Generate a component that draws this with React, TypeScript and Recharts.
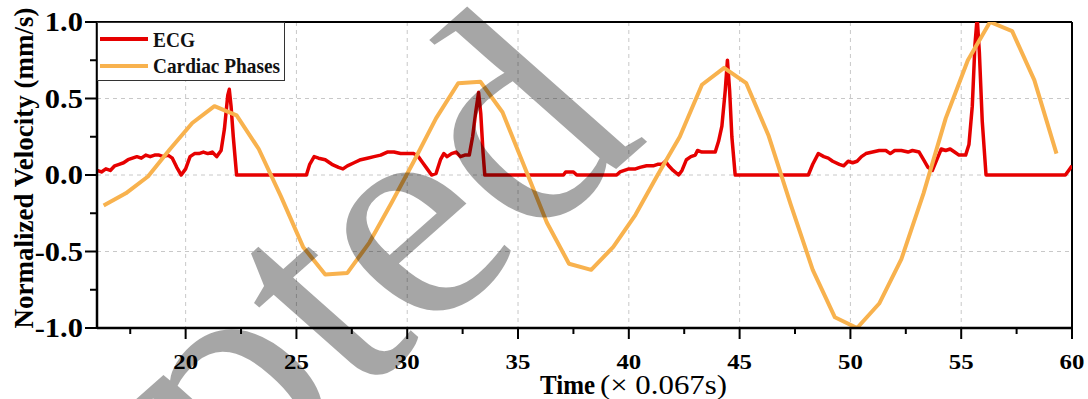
import React from 'react';
import { LineChart, Line, XAxis, YAxis, CartesianGrid, ReferenceLine, Legend, Label } from 'recharts';

// cardiac phase curve (one sample per frame)
const PHASE_TIME = [
  16.3, 17.3, 18.3, 19.3, 20.3, 21.3, 22.3, 23.3, 24.3, 25.3, 26.3, 27.3, 28.3, 29.3, 30.3,
  31.3, 32.3, 33.3, 34.3, 35.3, 36.3, 37.3, 38.3, 39.3, 40.3, 41.3, 42.3, 43.3, 44.3, 45.3,
  46.3, 47.3, 48.3, 49.3, 50.3, 51.3, 52.3, 53.3, 54.3, 55.3, 56.3, 57.3, 58.3, 59.3,
];
const PHASE_VALUE = [
  -0.2, -0.12, -0.01, 0.17, 0.34, 0.45, 0.39, 0.17, -0.14, -0.47, -0.65, -0.64, -0.44, -0.18, 0.09,
  0.37, 0.6, 0.61, 0.41, 0.05, -0.31, -0.58, -0.62, -0.47, -0.26, 0.0, 0.25, 0.59, 0.7, 0.6,
  0.26, -0.19, -0.62, -0.93, -1.0, -0.84, -0.55, -0.12, 0.37, 0.75, 1.0, 0.94, 0.62, 0.14,
];

// ECG trace
const ECG_TIME = [
  16.0, 16.2, 16.4, 16.6, 16.8, 17.0, 17.2, 17.4, 17.6, 17.8, 18.0, 18.2, 18.4, 18.6, 18.8, 19.0, 19.2, 19.4, 19.6, 19.8,
  20.0, 20.2, 20.4, 20.6, 20.8, 21.0, 21.2, 21.4, 21.6, 21.75, 21.9, 21.97, 22.05, 22.15, 22.3,
  25.45, 25.6, 25.8, 26.0, 26.3, 26.6, 26.9, 27.1, 27.3, 27.6, 27.9, 28.2, 28.5, 28.8, 29.1, 29.4, 29.7,
  30.0, 30.3, 30.5, 30.7, 30.9, 31.1, 31.3, 31.5, 31.65, 31.8, 32.0, 32.2, 32.4, 32.6, 32.8, 32.95, 33.1, 33.22, 33.32, 33.42, 33.5,
  37.05, 37.15, 37.5, 37.65, 39.45, 39.6, 39.8, 40.0, 40.3, 40.5, 40.8, 41.1, 41.3, 41.5, 41.65, 41.8, 42.0, 42.25,
  42.4, 42.6, 42.8, 43.0, 43.1, 43.3, 43.5, 43.9, 44.05, 44.2, 44.35, 44.45, 44.55, 44.65, 44.8,
  48.1, 48.3, 48.55, 48.8, 49.0, 49.2, 49.5, 49.7, 49.9, 50.1, 50.3, 50.5, 50.7, 51.0, 51.3, 51.6, 51.8, 52.0, 52.3, 52.6, 52.8,
  53.1, 53.3, 53.5, 53.7, 53.9, 54.1, 54.3, 54.5, 54.7, 54.9, 55.2, 55.35, 55.5, 55.62, 55.72, 55.82, 55.95, 56.12,
  59.7, 59.85, 60.0,
];
const ECG_VALUE = [
  0.03, 0.02, 0.04, 0.03, 0.06, 0.07, 0.08, 0.1, 0.11, 0.12, 0.11, 0.13, 0.12, 0.13, 0.13, 0.12, 0.13, 0.11, 0.05, 0.0,
  0.04, 0.12, 0.14, 0.14, 0.15, 0.14, 0.15, 0.12, 0.16, 0.3, 0.52, 0.56, 0.45, 0.25, 0.0,
  0.0, 0.07, 0.12, 0.11, 0.1, 0.07, 0.05, 0.04, 0.06, 0.08, 0.1, 0.11, 0.12, 0.13, 0.15, 0.15, 0.14,
  0.14, 0.14, 0.12, 0.08, 0.04, 0.0, 0.01, 0.1, 0.14, 0.12, 0.14, 0.15, 0.12, 0.13, 0.13, 0.25, 0.42, 0.54, 0.4, 0.15, 0.0,
  0.0, 0.02, 0.02, 0.0, 0.0, 0.02, 0.03, 0.04, 0.04, 0.05, 0.06, 0.06, 0.07, 0.07, 0.09, 0.06, 0.03, 0.0,
  0.03, 0.1, 0.12, 0.13, 0.16, 0.15, 0.15, 0.15, 0.22, 0.32, 0.55, 0.75, 0.55, 0.25, 0.0,
  0.0, 0.07, 0.14, 0.12, 0.11, 0.09, 0.07, 0.06, 0.09, 0.08, 0.09, 0.12, 0.14, 0.15, 0.16, 0.16, 0.14, 0.16, 0.16, 0.15, 0.16,
  0.15, 0.1, 0.05, 0.03, 0.1, 0.17, 0.16, 0.17, 0.15, 0.13, 0.13, 0.2, 0.45, 0.85, 1.03, 0.8, 0.35, 0.0,
  0.0, 0.03, 0.06,
];

const X_TICKS = [17.5, 20, 22.5, 25, 27.5, 30, 32.5, 35, 37.5, 40, 42.5, 45, 47.5, 50, 52.5, 55, 57.5, 60];
const X_GRID = [20, 25, 30, 35, 40, 45, 50, 55];
const Y_TICKS = [-1, -0.75, -0.5, -0.25, 0, 0.25, 0.5, 0.75, 1];
const Y_GRID = [-0.5, 0, 0.5];
const SERIES_NAMES = ['ECG', 'Cardiac Phases'];

const ECG_COLOR = '#e60000';
const PHASE_COLOR = '#f8b24e';
const SERIF = '"Liberation Serif", "Times New Roman", serif';

const phaseData = PHASE_TIME.map((t, i) => ({ time: t, value: PHASE_VALUE[i] }));
const ecgData = ECG_TIME.map((t, i) => ({ time: t, value: ECG_VALUE[i] }));

const isMajor = (v: number, step: number) => Math.abs(v / step - Math.round(v / step)) < 1e-6;

const XTick = ({ x, y, payload }: any) => {
  const major = isMajor(payload.value, 5);
  return (
    <g>
      <line x1={x} x2={x} y1={y} y2={y + (major ? 11 : 6)} stroke="#000" strokeWidth={2} />
      {major && (
        <text transform={`translate(${x},${y + 41}) scale(1.13,1)`} textAnchor="middle"
          fontFamily={SERIF} fontWeight="bold" fontSize={22} fill="#000">
          {payload.value}
        </text>
      )}
    </g>
  );
};

const YTick = ({ x, y, payload }: any) => {
  const major = isMajor(payload.value, 0.5);
  return (
    <g>
      <line x1={x - (major ? 12 : 7)} x2={x} y1={y} y2={y} stroke="#000" strokeWidth={2} />
      {major && (
        <text transform={`translate(${x - 14},${y + 9}) scale(1.13,1)`} textAnchor="end"
          fontFamily={SERIF} fontWeight="bold" fontSize={27} fill="#000">
          {payload.value.toFixed(1)}
        </text>
      )}
    </g>
  );
};

const LegendBox = () => (
  <div style={{ width: 188, height: 59, boxSizing: 'border-box', border: '1.5px solid #333', background: '#fff' }}>
    <svg width={186} height={57} style={{ display: 'block' }}>
      <line x1={2} x2={50} y1={16} y2={16} stroke={ECG_COLOR} strokeWidth={4} />
      <text x={55} y={24} fontFamily={SERIF} fontWeight="bold" fontSize={21} fill="#111"
        textLength={42} lengthAdjust="spacingAndGlyphs">{SERIES_NAMES[0]}</text>
      <line x1={2} x2={50} y1={43} y2={43} stroke={PHASE_COLOR} strokeWidth={4} />
      <text x={55} y={50} fontFamily={SERIF} fontWeight="bold" fontSize={20} fill="#111"
        textLength={127} lengthAdjust="spacingAndGlyphs">{SERIES_NAMES[1]}</text>
    </svg>
  </div>
);

export default function App() {
  return (
    <div style={{ position: 'absolute', left: 0, top: 0, width: 1088, height: 399, background: '#fff' }}>
      <LineChart width={1088} height={399} margin={{ top: 22, right: 16, bottom: 0, left: 0 }}>
        <CartesianGrid stroke="#c8c8c8" strokeDasharray="4 4" horizontalValues={Y_GRID} verticalValues={X_GRID} />
        <XAxis dataKey="time" type="number" domain={[16, 60]} ticks={X_TICKS} interval={0} allowDataOverflow
          height={71} tickSize={0} tickMargin={0} tickLine={false} tick={<XTick />}
          axisLine={{ stroke: '#000', strokeWidth: 2.5 }}>
          <Label content={() => (
            <g>
              <text x={540} y={394} fontFamily={SERIF} fontWeight="bold" fontSize={27} fill="#000"
                textLength={55} lengthAdjust="spacingAndGlyphs">Time</text>
              <text x={600} y={394} fontFamily={SERIF} fontSize={27} fill="#000"
                textLength={127} lengthAdjust="spacingAndGlyphs">(× 0.067s)</text>
            </g>
          )} />
        </XAxis>
        <YAxis type="number" domain={[-1, 1]} ticks={Y_TICKS} interval={0} allowDataOverflow width={97}
          tickSize={0} tickMargin={0} tickLine={false} tick={<YTick />}
          axisLine={{ stroke: '#000', strokeWidth: 2.5 }}>
          <Label content={() => (
            <text x={33} y={168} transform="rotate(-90 33 168)" textAnchor="middle" fontFamily={SERIF}
              fontWeight="bold" fontSize={27} fill="#000">Normalized Velocity (mm/s)</text>
          )} />
        </YAxis>
        <ReferenceLine y={1} stroke="#000" strokeWidth={2} />
        <ReferenceLine x={60} stroke="#000" strokeWidth={2} />
        <Line data={ecgData} dataKey="value" name={SERIES_NAMES[0]} type="linear" stroke={ECG_COLOR}
          strokeWidth={3.5} dot={false} strokeLinejoin="round" isAnimationActive={false} />
        <Line data={phaseData} dataKey="value" name={SERIES_NAMES[1]} type="linear" stroke={PHASE_COLOR}
          strokeWidth={4} dot={false} strokeLinejoin="round" isAnimationActive={false} />
        <Legend layout="horizontal" verticalAlign="middle" align="center"
          wrapperStyle={{ left: 97, top: 22, width: 188, height: 59 }} content={() => <LegendBox />} />
      </LineChart>
      {/* journal watermark, 45° and stretched like the rest of the figure */}
      <svg width={1088} height={399} style={{ position: 'absolute', left: 0, top: 0, pointerEvents: 'none' }}>
        <text transform="translate(-255,940) scale(1.13,1) rotate(-45)" fontFamily={SERIF} fontSize={300}
          fill="#000" fillOpacity={0.35}>Accepted</text>
      </svg>
    </div>
  );
}
